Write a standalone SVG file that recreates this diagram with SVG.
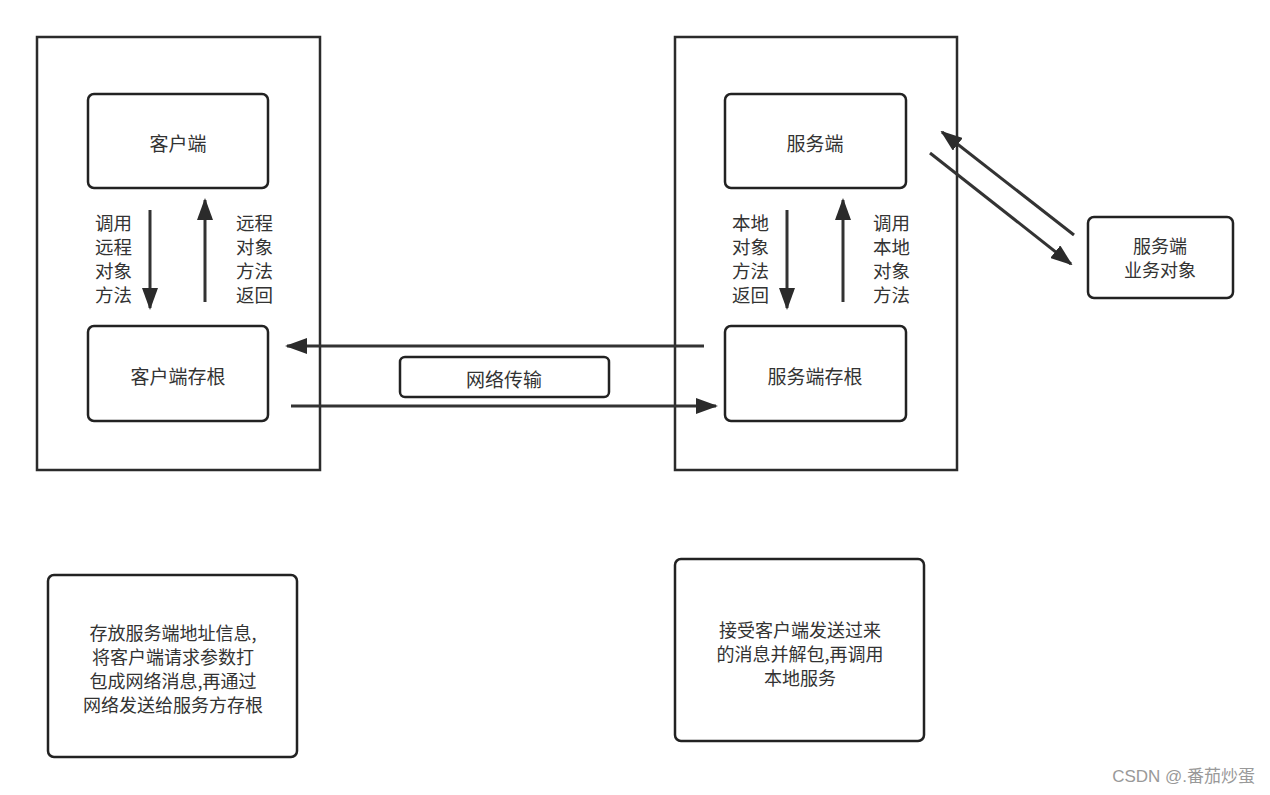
<svg xmlns="http://www.w3.org/2000/svg" width="1270" height="795" viewBox="0 0 1270 795">
<style>
.frame{fill:#fff;stroke:#2b2b2b;stroke-width:2.5}
.box{fill:#fff;stroke:#222;stroke-width:2.5}
.t{font-family:"Noto Sans CJK SC","Liberation Sans",sans-serif;font-size:18px;fill:#333;text-anchor:middle;dominant-baseline:central}
.lbl{font-family:"Noto Sans CJK SC","Liberation Sans",sans-serif;font-size:18.5px;fill:#333;dominant-baseline:central}
.c{stroke:#333;stroke-width:3;fill:none;marker-end:url(#ah)}
</style>
<defs>
<marker id="ah" markerUnits="userSpaceOnUse" markerWidth="22" markerHeight="16" refX="20" refY="8" orient="auto">
<path d="M0,0 L22,8 L0,16 Z" fill="#2b2b2b"/>
</marker>
</defs>
<rect width="1270" height="795" fill="#fff"/>
<g id="client-frame"><rect class="frame" x="37" y="37" width="283" height="433"/></g>
<g id="server-frame"><rect class="frame" x="675" y="37" width="282" height="433"/></g>
<g id="client"><rect class="box" x="88" y="94" width="180" height="94" rx="6"/><text class="t" x="178" y="142" style="font-size:19px">客户端</text></g>
<g id="client-stub"><rect class="box" x="88" y="326" width="180" height="95" rx="6"/><text class="t" x="178" y="375" style="font-size:19px">客户端存根</text></g>
<g id="server"><rect class="box" x="725" y="94" width="181" height="94" rx="6"/><text class="t" x="815" y="142" style="font-size:19px">服务端</text></g>
<g id="server-stub"><rect class="box" x="725" y="326" width="181" height="95" rx="6"/><text class="t" x="815" y="375" style="font-size:19px">服务端存根</text></g>
<g id="server-object"><rect class="box" x="1088" y="217" width="145" height="81" rx="6"/><text class="t" x="1160" y="245">服务端<tspan x="1160" dy="24">业务对象</tspan></text></g>
<g id="network"><rect class="box" x="400" y="357" width="209" height="40" rx="5"/><text class="t" x="504" y="378" style="font-size:19px">网络传输</text></g>
<g id="note-client"><rect class="box" x="48" y="575" width="249" height="182" rx="6"/>
<text class="t" x="173" y="632">存放服务端地址信息,<tspan x="173" dy="24">将客户端请求参数打</tspan><tspan x="173" dy="24">包成网络消息,再通过</tspan><tspan x="173" dy="24">网络发送给服务方存根</tspan></text></g>
<g id="note-server"><rect class="box" x="675" y="559" width="249" height="182" rx="6"/>
<text class="t" x="800" y="629">接受客户端发送过来<tspan x="800" dy="24">的消息并解包,再调用</tspan><tspan x="800" dy="24">本地服务</tspan></text></g>
<g id="labels">
<text class="lbl" x="95" y="222">调用<tspan x="95" dy="24">远程</tspan><tspan x="95" dy="24">对象</tspan><tspan x="95" dy="24">方法</tspan></text>
<text class="lbl" x="236" y="222">远程<tspan x="236" dy="24">对象</tspan><tspan x="236" dy="24">方法</tspan><tspan x="236" dy="24">返回</tspan></text>
<text class="lbl" x="732" y="222">本地<tspan x="732" dy="24">对象</tspan><tspan x="732" dy="24">方法</tspan><tspan x="732" dy="24">返回</tspan></text>
<text class="lbl" x="873" y="222">调用<tspan x="873" dy="24">本地</tspan><tspan x="873" dy="24">对象</tspan><tspan x="873" dy="24">方法</tspan></text>
</g>
<g id="connectors">
<line class="c" x1="150" y1="210" x2="150" y2="308"/>
<line class="c" x1="205" y1="302" x2="205" y2="200"/>
<line class="c" x1="787" y1="210" x2="787" y2="308"/>
<line class="c" x1="843" y1="302" x2="843" y2="200"/>
<line class="c" x1="704" y1="346" x2="287" y2="346"/>
<line class="c" x1="291" y1="406" x2="716" y2="406"/>
<line class="c" x1="1074" y1="235" x2="942" y2="132"/>
<line class="c" x1="930" y1="153" x2="1071" y2="264"/>
</g>
<text x="1255" y="782" font-family="Liberation Sans,'Noto Sans CJK SC',sans-serif" font-size="17" fill="#999" text-anchor="end">CSDN @.番茄炒蛋</text>
</svg>
